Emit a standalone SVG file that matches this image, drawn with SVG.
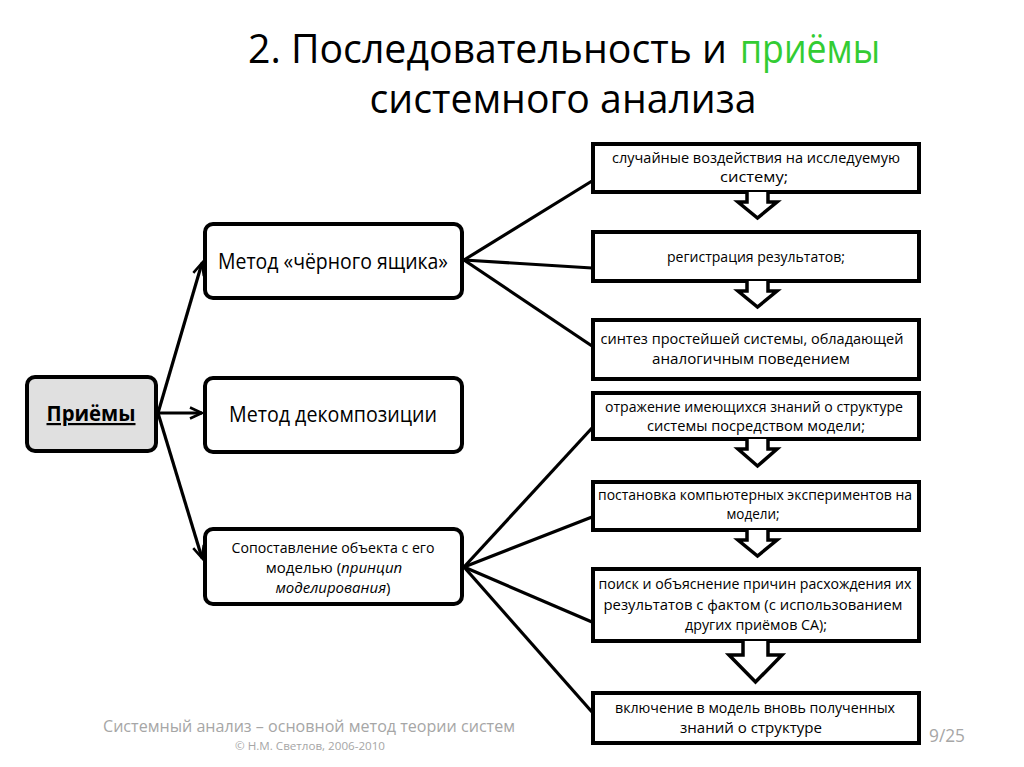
<svg xmlns="http://www.w3.org/2000/svg" width="1024" height="767" viewBox="0 0 1024 767">
<defs>
<style>
text{font-family:"Open Sans","Liberation Sans",sans-serif;fill:#000}
.title{font-size:40px}
.main{font-size:22px;text-anchor:middle}
.sm{font-size:15px;text-anchor:middle}
.node{fill:#fff;stroke:#000;stroke-width:4}
.step{fill:#fff;stroke:#000;stroke-width:4}
.blk{fill:#fff;stroke:#000;stroke-width:3.5;stroke-linejoin:miter}
.con{stroke:#000;stroke-width:3.2;fill:none}
.foot{fill:#a6a6a6}
</style>
<marker id="ah" markerUnits="userSpaceOnUse" markerWidth="16" markerHeight="16" refX="13" refY="7" orient="auto" viewBox="0 0 16 14">
<path d="M1,1.5 L13,7 L1,12.5" fill="none" stroke="#000" stroke-width="2.6"/>
</marker>
</defs>
<rect width="1024" height="767" fill="#fff"/>

<g id="title">
<text class="title" x="248" y="63" textLength="479" lengthAdjust="spacingAndGlyphs">2. Последовательность и</text>
<text class="title" x="740" y="63" textLength="140" lengthAdjust="spacingAndGlyphs" style="fill:#33cc33">приёмы</text>
<text class="title" x="563" y="113" text-anchor="middle" textLength="387" lengthAdjust="spacingAndGlyphs">системного анализа</text>
</g>

<g id="connectors">
<line class="con" x1="158" y1="413" x2="202" y2="263" marker-end="url(#ah)"/>
<line class="con" x1="158" y1="413" x2="202" y2="413" marker-end="url(#ah)"/>
<line class="con" x1="158" y1="413" x2="202" y2="558" marker-end="url(#ah)"/>
<line class="con" x1="464" y1="260" x2="592" y2="181"/>
<line class="con" x1="464" y1="260" x2="592" y2="268"/>
<line class="con" x1="464" y1="260" x2="592" y2="346"/>
<line class="con" x1="464" y1="567" x2="592" y2="428"/>
<line class="con" x1="464" y1="567" x2="592" y2="517"/>
<line class="con" x1="464" y1="567" x2="592" y2="622"/>
<line class="con" x1="464" y1="567" x2="592" y2="712"/>
</g>

<g id="node-priemy">
<rect x="27" y="377" width="129" height="74" rx="8" fill="#e0e0e0" stroke="#000" stroke-width="4"/>
<text x="91" y="421" font-size="22" font-weight="bold" text-anchor="middle" text-decoration="underline" textLength="89" lengthAdjust="spacingAndGlyphs">Приёмы</text>
</g>

<g id="node-blackbox">
<rect class="node" x="205" y="224" width="257" height="74" rx="8"/>
<text class="main" x="333" y="269" textLength="230" lengthAdjust="spacingAndGlyphs">Метод «чёрного ящика»</text>
</g>

<g id="node-decomp">
<rect class="node" x="205" y="378" width="257" height="74" rx="8"/>
<text class="main" x="333" y="422" textLength="208" lengthAdjust="spacingAndGlyphs">Метод декомпозиции</text>
</g>

<g id="node-compare">
<rect class="node" x="205" y="529" width="257" height="75" rx="8"/>
<text class="sm" x="333" y="553" textLength="203" lengthAdjust="spacingAndGlyphs">Сопоставление объекта с его</text>
<text class="sm" x="334" y="573">моделью (<tspan font-style="italic">принцип</tspan></text>
<text class="sm" x="333" y="593"><tspan font-style="italic">моделирования</tspan>)</text>
</g>

<g id="step1">
<rect class="step" x="593" y="144" width="326" height="48"/>
<text class="sm" x="756" y="163" textLength="288" lengthAdjust="spacingAndGlyphs">случайные воздействия на исследуемую</text>
<text class="sm" x="754" y="182" textLength="68" lengthAdjust="spacingAndGlyphs">систему;</text>
</g>
<g id="arrow1"><path class="blk" d="M747,192 V202 H738 L757.5,218 L777,202 H768 V192"/></g>

<g id="step2">
<rect class="step" x="593" y="232" width="326" height="49"/>
<text class="sm" x="756" y="262" textLength="178" lengthAdjust="spacingAndGlyphs">регистрация результатов;</text>
</g>
<g id="arrow2"><path class="blk" d="M747,281 V291 H738 L757.5,307 L777,291 H768 V281"/></g>

<g id="step3">
<rect class="step" x="593" y="320" width="326" height="59"/>
<text class="sm" x="752" y="344" textLength="303" lengthAdjust="spacingAndGlyphs">синтез простейшей системы, обладающей</text>
<text class="sm" x="751" y="364" textLength="198" lengthAdjust="spacingAndGlyphs">аналогичным поведением</text>
</g>

<g id="step4">
<rect class="step" x="593" y="393" width="326" height="46"/>
<text class="sm" x="754" y="412" textLength="298" lengthAdjust="spacingAndGlyphs">отражение имеющихся знаний о структуре</text>
<text class="sm" x="756" y="431" textLength="218" lengthAdjust="spacingAndGlyphs">системы посредством  модели;</text>
</g>
<g id="arrow3"><path class="blk" d="M747,439 V449 H738 L757.5,466 L777,449 H768 V439"/></g>

<g id="step5">
<rect class="step" x="593" y="482" width="326" height="48"/>
<text class="sm" x="755" y="500" textLength="314" lengthAdjust="spacingAndGlyphs">постановка компьютерных экспериментов на</text>
<text class="sm" x="753" y="519" textLength="53" lengthAdjust="spacingAndGlyphs">модели;</text>
</g>
<g id="arrow4"><path class="blk" d="M747,530 V540 H738 L757.5,556 L777,540 H768 V530"/></g>

<g id="step6">
<rect class="step" x="593" y="569" width="326" height="72"/>
<text class="sm" x="755" y="589" textLength="313" lengthAdjust="spacingAndGlyphs">поиск и объяснение причин расхождения их</text>
<text class="sm" x="753" y="610" textLength="299" lengthAdjust="spacingAndGlyphs">результатов с фактом (с использованием</text>
<text class="sm" x="756" y="630" textLength="142" lengthAdjust="spacingAndGlyphs">других приёмов СА);</text>
</g>
<g id="arrow5"><path class="blk" d="M743,641 V655 H729 L755.5,682 L782,655 H768 V641"/></g>

<g id="step7">
<rect class="step" x="593" y="693" width="326" height="50"/>
<text class="sm" x="755" y="713" textLength="280" lengthAdjust="spacingAndGlyphs">включение в модель вновь полученных</text>
<text class="sm" x="751" y="733" textLength="142" lengthAdjust="spacingAndGlyphs">знаний о структуре</text>
</g>

<g id="footer">
<text class="foot" x="309" y="732" font-size="16" text-anchor="middle" textLength="412" lengthAdjust="spacingAndGlyphs">Системный анализ – основной метод теории систем</text>
<text class="foot" x="310" y="750" font-size="11" text-anchor="middle" textLength="150" lengthAdjust="spacingAndGlyphs">© Н.М. Светлов, 2006-2010</text>
<text class="foot" x="947" y="742" font-size="18" text-anchor="middle" textLength="36" lengthAdjust="spacingAndGlyphs">9/25</text>
</g>
</svg>
